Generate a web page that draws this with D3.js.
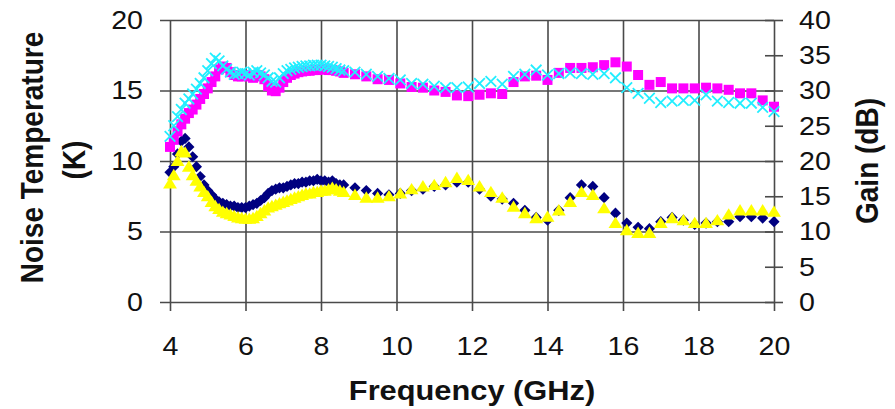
<!DOCTYPE html>
<html>
<head>
<meta charset="utf-8">
<script src="https://cdn.jsdelivr.net/npm/d3@7"></script>
<style>
    body { margin: 0; background: #fff; }
    svg { display: block; }
    text { font-family: 'Liberation Sans', Arial, sans-serif; fill: #111; }
</style>
</head>
<body>
<svg width="895" height="409"></svg>
<script>

// frequency points (GHz): fine sweep to 8.6, coarse sweep after
const FREQ = [
    4.0, 4.1, 4.2, 4.3, 4.4, 4.5, 4.6, 4.7, 4.8, 4.9,
    5.0, 5.1, 5.2, 5.3, 5.4, 5.5, 5.6, 5.7, 5.8, 5.9,
    6.0, 6.1, 6.2, 6.3, 6.4, 6.5, 6.6, 6.7, 6.8, 6.9,
    7.0, 7.1, 7.2, 7.3, 7.4, 7.5, 7.6, 7.7, 7.8, 7.9,
    8.0, 8.1, 8.2, 8.3, 8.4, 8.5, 8.6,
    8.9, 9.2, 9.5, 9.8, 10.1, 10.4, 10.7, 11.0, 11.3, 11.6,
    11.9, 12.2, 12.5, 12.8, 13.1, 13.4, 13.7, 14.0, 14.3, 14.6,
    14.9, 15.2, 15.5, 15.8, 16.1, 16.4, 16.7, 17.0, 17.3, 17.6,
    17.9, 18.2, 18.5, 18.8, 19.1, 19.4, 19.7, 20.0
];

// noise temperature (K), navy diamonds
const NOISE_A = [
    9.2, 9.6, 10.5, 11.4, 11.6, 11.0, 10.3, 9.6, 8.9, 8.3,
    7.9, 7.6, 7.3, 7.1, 7.0, 6.9, 6.8, 6.8, 6.7, 6.7,
    6.7, 6.8, 6.9, 7.0, 7.2, 7.4, 7.7, 7.9, 8.0, 8.1,
    8.1, 8.2, 8.3, 8.4, 8.4, 8.5, 8.5, 8.6, 8.6, 8.7,
    8.6, 8.6, 8.5, 8.6, 8.4, 8.3, 8.3,
    8.1, 7.9, 7.7, 7.6, 7.7, 7.9, 8.0, 8.2, 8.3, 8.5,
    8.5, 8.0, 7.5, 7.3, 7.0, 6.5, 6.0, 5.8, 6.5, 7.4,
    8.3, 8.2, 7.4, 6.3, 5.6, 5.3, 5.2, 5.7, 6.0, 5.8,
    5.5, 5.6, 5.7, 5.7, 6.05, 6.05, 5.95, 5.7
];

// noise temperature (K), yellow triangles
const NOISE_B = [
    8.4, 9.0, 10.0, 10.7, 10.6, 9.6, 9.0, 8.6, 8.2, 7.8,
    7.5, 7.1, 6.8, 6.6, 6.4, 6.3, 6.2, 6.1, 6.0, 5.95,
    5.9, 5.9, 5.95, 6.1, 6.3, 6.5, 6.7, 6.8, 6.9, 7.0,
    7.1, 7.2, 7.3, 7.4, 7.5, 7.6, 7.7, 7.7, 7.8, 7.8,
    7.9, 7.9, 8.0, 8.1, 8.0, 7.9, 7.8,
    7.6, 7.4, 7.4, 7.5, 7.7, 8.0, 8.2, 8.3, 8.5, 8.8,
    8.65, 8.2, 7.8, 7.4, 6.75, 6.3, 5.95, 6.05, 6.5, 7.1,
    7.8, 7.6, 6.65, 5.6, 5.1, 4.9, 4.9, 5.6, 5.95, 5.8,
    5.6, 5.6, 5.8, 6.2, 6.5, 6.5, 6.5, 6.4
];

// gain (dB), magenta squares
const GAIN_A = [
    22.0, 23.0, 24.2, 25.2, 26.0, 26.8, 27.3, 28.0, 28.8, 29.5,
    30.3, 31.2, 32.0, 33.0, 33.4, 33.2, 32.6, 32.2, 32.0, 32.0,
    32.2, 32.0, 31.8, 32.2, 32.0, 31.6, 30.6, 30.0, 29.9, 30.4,
    31.2, 31.8, 32.2, 32.4, 32.6, 32.7, 32.8, 32.8, 32.9, 32.9,
    33.0, 33.0, 32.9, 32.9, 32.8, 32.7, 32.5,
    32.3, 32.0, 31.6, 31.5, 31.0, 30.5, 30.4, 30.0, 29.8, 29.3,
    29.2, 29.4, 29.6, 29.5, 31.2, 32.0, 32.1, 31.5, 32.5, 33.2,
    33.2, 33.3, 33.6, 34.0, 33.4, 32.2, 30.8, 31.2, 30.3, 30.3,
    30.3, 30.4, 30.3, 30.1, 29.6, 29.6, 28.6, 27.7
];

// gain (dB), cyan crosses
const GAIN_B = [
    23.5, 25.0, 26.3, 27.3, 28.2, 28.8, 29.5, 30.2, 31.0, 31.8,
    32.8, 33.8, 34.6, 34.2, 33.5, 33.0, 32.6, 32.3, 32.4, 32.6,
    32.4, 32.2, 32.6, 32.8, 32.5, 32.2, 31.8, 31.3, 31.2, 31.8,
    32.4, 32.8, 33.0, 33.2, 33.3, 33.4, 33.5, 33.5, 33.6, 33.6,
    33.6, 33.5, 33.4, 33.3, 33.1, 32.9, 32.8,
    32.6, 32.3, 32.0, 31.7, 31.5, 31.0, 30.9, 30.6, 30.4, 30.4,
    30.5, 31.0, 31.3, 30.9, 32.0, 32.3, 32.9, 32.2, 32.4, 32.5,
    32.4, 32.3, 32.4, 31.8, 30.4, 29.6, 28.9, 28.3, 28.5, 28.6,
    28.6, 29.4, 28.5, 28.3, 28.2, 28.2, 27.6, 27.0
];

// axis ticks and titles
const X_TICKS = [4, 6, 8, 10, 12, 14, 16, 18, 20];
const Y_LEFT_TICKS = [0, 5, 10, 15, 20];
const Y_RIGHT_TICKS = [0, 5, 10, 15, 20, 25, 30, 35, 40];
const X_TITLE = 'Frequency (GHz)';
const Y_LEFT_TITLE = ['Noise Temperature', '(K)'];
const Y_RIGHT_TITLE = 'Gain (dB)';

// the source picture is a bit wider than tall, so text gets stretched
var STRETCH = 1.1;
var GRID = '#4a4a4a';

var svg = d3.select('svg');
var plot = { left: 170, right: 774, top: 20, bottom: 302 };

var xScale = d3.scaleLinear().domain([4, 20]).range([plot.left, plot.right]);
var yLeft = d3.scaleLinear().domain([0, 20]).range([plot.bottom, plot.top]);
var yRight = d3.scaleLinear().domain([0, 40]).range([plot.bottom, plot.top]);

// marker shapes, size = half width
var squareMark = { draw: function(ctx, r) { ctx.rect(-r, -r, 2 * r, 2 * r); } };
var diamondMark = { draw: function(ctx, r) {
    ctx.moveTo(0, -r); ctx.lineTo(r, 0); ctx.lineTo(0, r); ctx.lineTo(-r, 0); ctx.closePath();
} };
var triangleMark = { draw: function(ctx, r) {
    ctx.moveTo(0, -r); ctx.lineTo(r * 1.1, r * 0.8); ctx.lineTo(-r * 1.1, r * 0.8); ctx.closePath();
} };
var crossMark = { draw: function(ctx, r) {
    ctx.moveTo(-r, -r); ctx.lineTo(r, r); ctx.moveTo(r, -r); ctx.lineTo(-r, r);
} };

// x axis with full height grid lines
var xAxis = svg.append('g')
    .attr('transform', 'translate(0,' + (plot.bottom + 9) + ')')
    .call(d3.axisBottom(xScale)
        .tickValues(X_TICKS)
        .tickSizeInner(-(plot.bottom + 9 - plot.top))
        .tickSizeOuter(0)
        .tickPadding(25.5));
xAxis.select('.domain').remove();

// left axis, grid lines across the plot
var leftAxis = svg.append('g')
    .attr('transform', 'translate(' + (plot.left - 10) + ',0)')
    .call(d3.axisLeft(yLeft)
        .tickValues(Y_LEFT_TICKS)
        .tickSizeInner(-(plot.right - plot.left + 10))
        .tickSizeOuter(0)
        .tickPadding(15.5));
leftAxis.select('.domain').remove();

// right axis, ticks cross the axis line
var rightAxis = svg.append('g')
    .attr('transform', 'translate(' + (plot.right - 9) + ',0)')
    .call(d3.axisRight(yRight)
        .tickValues(Y_RIGHT_TICKS)
        .tickSizeInner(18)
        .tickSizeOuter(0)
        .tickPadding(12.9));
rightAxis.select('.domain').remove();

svg.selectAll('.tick line')
    .attr('stroke', GRID)
    .attr('stroke-width', 1.6);

svg.selectAll('.tick text')
    .attr('font-family', "'Liberation Sans', Arial, sans-serif")
    .attr('font-size', 26)
    .attr('fill', '#111')
    .attr('transform', 'scale(' + STRETCH + ',1)');

// data series, drawn in the original series order
function drawSeries(values, yScale, shape, r, fill, stroke) {
    var symbol = d3.symbol().type(shape).size(r);
    svg.append('g')
        .selectAll('path')
        .data(values)
        .enter()
        .append('path')
        .attr('transform', function(d, i) {
            return 'translate(' + xScale(FREQ[i]) + ',' + yScale(d) + ')';
        })
        .attr('d', symbol)
        .attr('fill', fill)
        .attr('stroke', stroke)
        .attr('stroke-width', stroke === 'none' ? 0 : 1.8);
}

drawSeries(NOISE_A, yLeft, diamondMark, 5.6, '#000080', 'none');
drawSeries(GAIN_A, yRight, squareMark, 5, '#FF00FF', 'none');
drawSeries(NOISE_B, yLeft, triangleMark, 6.3, '#FFFF00', 'none');
drawSeries(GAIN_B, yRight, crossMark, 5.3, 'none', '#22EEFF');

// titles
svg.append('text')
    .attr('transform', 'translate(' + d3.mean(xScale.range()) + ',400) scale(' + STRETCH + ',1)')
    .attr('text-anchor', 'middle')
    .attr('font-size', 28)
    .attr('font-weight', 'bold')
    .text(X_TITLE);

svg.append('text')
    .attr('transform', 'translate(42.7,157.5) scale(' + STRETCH + ',1) rotate(-90)')
    .attr('text-anchor', 'middle')
    .attr('font-size', 28)
    .attr('font-weight', 'bold')
    .text(Y_LEFT_TITLE[0]);

svg.append('text')
    .attr('transform', 'translate(85,160) scale(' + STRETCH + ',1) rotate(-90)')
    .attr('text-anchor', 'middle')
    .attr('font-size', 28)
    .attr('font-weight', 'bold')
    .text(Y_LEFT_TITLE[1]);

svg.append('text')
    .attr('transform', 'translate(877.5,161) scale(' + STRETCH + ',1) rotate(-90)')
    .attr('text-anchor', 'middle')
    .attr('font-size', 28)
    .attr('font-weight', 'bold')
    .text(Y_RIGHT_TITLE);

</script>
</body>
</html>
